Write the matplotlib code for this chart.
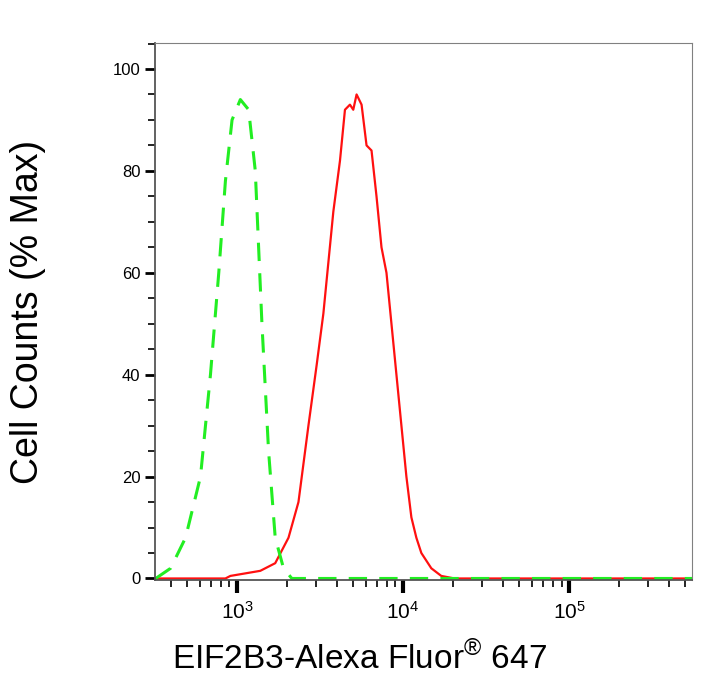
import numpy as np
import matplotlib
matplotlib.use("Agg")
import matplotlib.pyplot as plt
from matplotlib.ticker import LogLocator, NullFormatter, MultipleLocator

plt.rcParams['font.family'] = ['Liberation Sans', 'DejaVu Sans']
plt.rcParams['mathtext.fontset'] = 'custom'
plt.rcParams['mathtext.rm'] = 'Liberation Sans'

# log10 intensity and % max
red_logx = [2.51, 2.93, 2.96, 3.14, 3.23, 3.31, 3.37, 3.43, 3.48, 3.52, 3.55, 3.58, 3.62, 3.65,
            3.68, 3.70, 3.72, 3.75, 3.78, 3.81, 3.84, 3.87, 3.90, 3.93, 3.96, 3.99, 4.02, 4.05,
            4.08, 4.11, 4.17, 4.23, 4.31, 5.74]
red_y = [0, 0, 0.5, 1.5, 3, 8, 15, 30, 42, 52, 62, 72, 82, 92, 93, 92, 95, 93, 85, 84, 75,
         65, 60, 50, 40, 30, 20, 12, 8, 5, 2, 0.5, 0, 0]

green_logx = [2.51, 2.60, 2.69, 2.78, 2.84, 2.89, 2.93, 2.97, 3.02, 3.07, 3.11, 3.15, 3.19,
              3.23, 3.28, 3.33, 5.74]
green_y = [0, 2, 8, 20, 40, 60, 78, 90, 94, 92, 80, 50, 25, 8, 2, 0, 0]

fig = plt.figure(figsize=(7.25, 6.78), dpi=100)
ax = fig.add_axes([155 / 725, 1 - 580 / 678, 537 / 725, 537 / 678])

ax.plot(10 ** np.array(red_logx), red_y, color='#ff1010', lw=1.6)
ax.plot(10 ** np.array(green_logx), green_y, color='#22ee22', lw=2.2, dashes=(6, 4))

ax.set_xscale('log')
ax.set_xlim(10 ** 2.506, 10 ** 5.74)
ax.set_ylim(-0.3, 105.1)
ax.xaxis.set_major_locator(LogLocator(base=10, numticks=10))
ax.xaxis.set_minor_locator(LogLocator(base=10, subs=np.arange(2, 10), numticks=20))
ax.xaxis.set_minor_formatter(NullFormatter())
ax.yaxis.set_major_locator(MultipleLocator(20))
ax.yaxis.set_minor_locator(MultipleLocator(5))

for s in ['top', 'right']:
    ax.spines[s].set_color('#808080')
for s in ['left', 'bottom']:
    ax.spines[s].set_color('#555555')
    ax.spines[s].set_linewidth(1.3)

ax.tick_params(which='major', length=7, width=2, labelsize=12, color='black')
ax.tick_params(which='minor', length=5, width=1.2, color='black')
ax.tick_params(axis='x', which='major', length=9, width=3, labelsize=15, pad=6)

ax.set_ylabel('Cell Counts (% Max)', fontsize=27, labelpad=48)
ax.set_xlabel('EIF2B3-Alexa Fluor$^{®}$ 647', fontsize=24, labelpad=16)
ax.xaxis.set_label_coords(0.38, -0.115)

fig.savefig('out.png', dpi=100)
